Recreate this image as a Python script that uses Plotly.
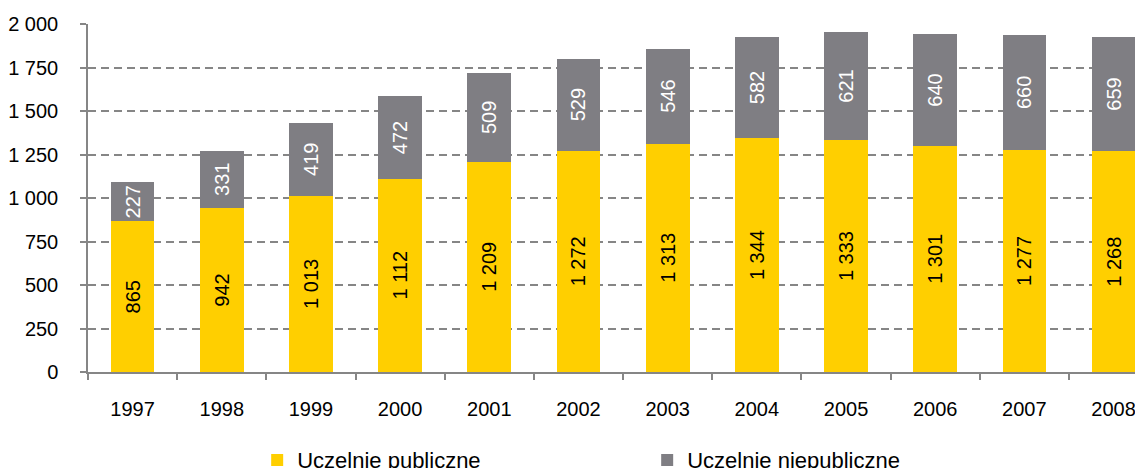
import plotly.graph_objects as go

years = [str(y) for y in range(1997, 2009)]
publiczne = [865, 942, 1013, 1112, 1209, 1272, 1313, 1344, 1333, 1301, 1277, 1268]
niepubliczne = [227, 331, 419, 472, 509, 529, 546, 582, 621, 640, 660, 659]

YELLOW = "#FFCF00"
GRAY = "#7F7E83"
AXIS = "#868686"
FONT = "Liberation Sans, Arial, sans-serif"

fig = go.Figure()
fig.add_trace(go.Bar(
    x=years, y=publiczne, name="Uczelnie publiczne",
    marker=dict(color=YELLOW, line=dict(width=0)),
    texttemplate="%{y:,}", textposition="inside", textangle=-90,
    insidetextanchor="middle", insidetextfont=dict(color="black", size=20, family=FONT),
))
fig.add_trace(go.Bar(
    x=years, y=niepubliczne, name="Uczelnie niepubliczne",
    marker=dict(color=GRAY, line=dict(width=0)),
    texttemplate="%{y:,}", textposition="inside", textangle=-90,
    insidetextanchor="middle", insidetextfont=dict(color="white", size=20, family=FONT),
))

# the page body adds an 8px offset, so the margins are pulled in by 8px
fig.update_layout(
    width=1143, height=468,
    barmode="stack", bargap=0.51,
    separators=", ",
    plot_bgcolor="white", paper_bgcolor="white",
    font=dict(family=FONT, size=20, color="black"),
    margin=dict(l=80, r=0, t=16, b=104, autoexpand=False),
    uniformtext=dict(minsize=20, mode="show"),
    showlegend=True,
    legend=dict(orientation="h", xref="container", yref="container", x=0.218, y=0.034,
                xanchor="left", yanchor="middle",
                entrywidth=345, font=dict(size=22), traceorder="normal"),
    xaxis=dict(type="category", range=[-0.5, 11.42], automargin=False,
               showline=True, linecolor=AXIS, linewidth=1.5,
               ticks="outside", tickson="boundaries", ticklen=6, tickcolor=AXIS, tickwidth=1.5,
               ticklabelstandoff=18, showgrid=False, tickfont=dict(size=20)),
    yaxis=dict(range=[0, 2000], tickvals=list(range(0, 2001, 250)), tickformat=",",
               automargin=False, showline=True, linecolor=AXIS, linewidth=1.5,
               ticks="outside", ticklen=6, tickcolor=AXIS, tickwidth=1.5, ticklabelstandoff=18,
               showgrid=True, gridcolor=AXIS, gridwidth=1.5, griddash="8px,5px",
               zeroline=False, tickfont=dict(size=20)),
    annotations=[dict(text="<b>Tys.</b>", xref="paper", yref="paper", x=0.0, y=1.0,
                      xanchor="left", yanchor="bottom", xshift=-6, yshift=20, showarrow=False,
                      font=dict(size=20, color="black", family=FONT))],
)

fig.write_html("out.html")
